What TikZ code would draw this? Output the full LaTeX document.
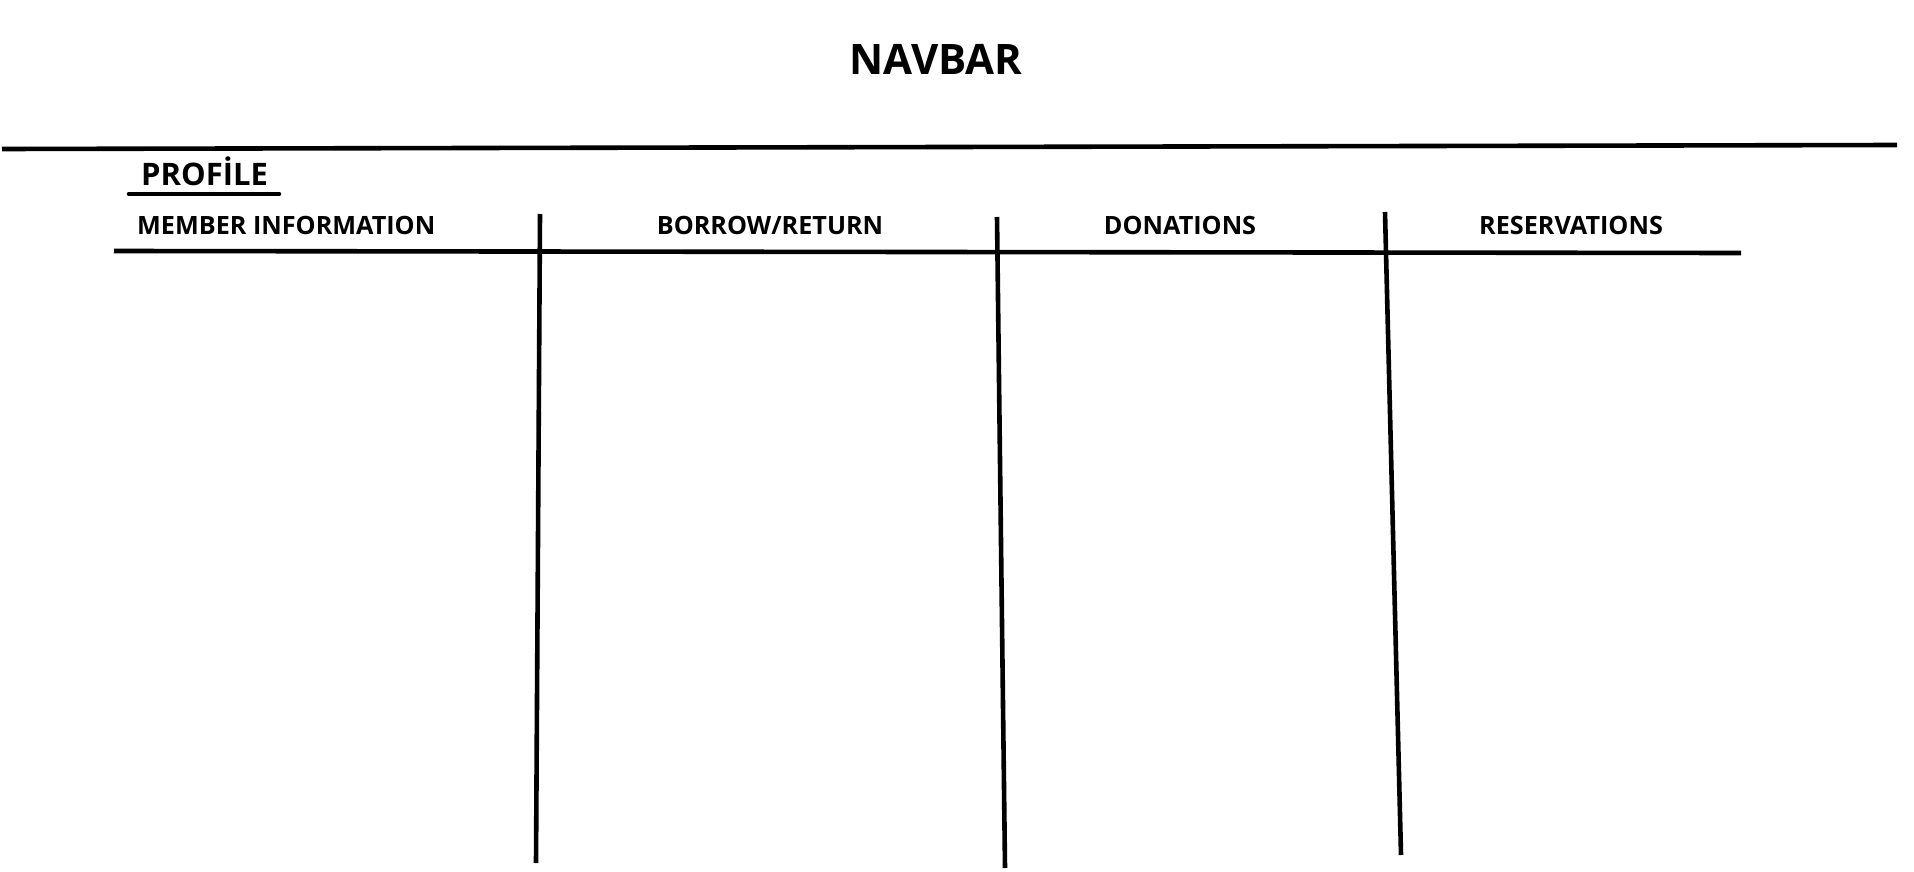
\documentclass[tikz,border=0pt]{standalone}
\usepackage{fontspec}
\setmainfont{Open Sans}
\begin{document}
\begin{tikzpicture}[x=1pt,y=-1pt,
  pen/.style={line width=4.6pt,black},
  lbl/.style={font=\bfseries\fontsize{25.2}{29}\selectfont,inner sep=0pt,text height=17.5pt,text depth=0pt},
  ttl/.style={font=\bfseries\fontsize{42}{48}\selectfont,inner sep=0pt,text height=30pt,text depth=0pt},
  prof/.style={font=\bfseries\fontsize{31}{37}\selectfont,inner sep=0pt,text height=22.5pt,text depth=0pt}]
\useasboundingbox (0,0) rectangle (1914,872);
\fill[white] (0,0) rectangle (1914,872);
\node[ttl] (navbar) at (936,60) {NAVBAR};
\draw[pen] (2,149) -- (1897,145);
\node[prof,anchor=west] (profile) at (141,174.5) {PROFİLE};
\draw[pen,line cap=round] (129,194) -- (279,194);
\node[lbl,anchor=west] (member) at (137,225.5) {MEMBER INFORMATION};
\node[lbl] (borrow) at (770,225.5) {BORROW/RETURN};
\node[lbl] (donations) at (1180,225.5) {DONATIONS};
\node[lbl] (reservations) at (1571,225.5) {RESERVATIONS};
\draw[pen] (114,251) -- (1741,253);
\draw[pen] (540,214) -- (536,863);
\draw[pen] (997,217) -- (1005,868);
\draw[pen] (1385,212) -- (1401,855);
\end{tikzpicture}
\end{document}
